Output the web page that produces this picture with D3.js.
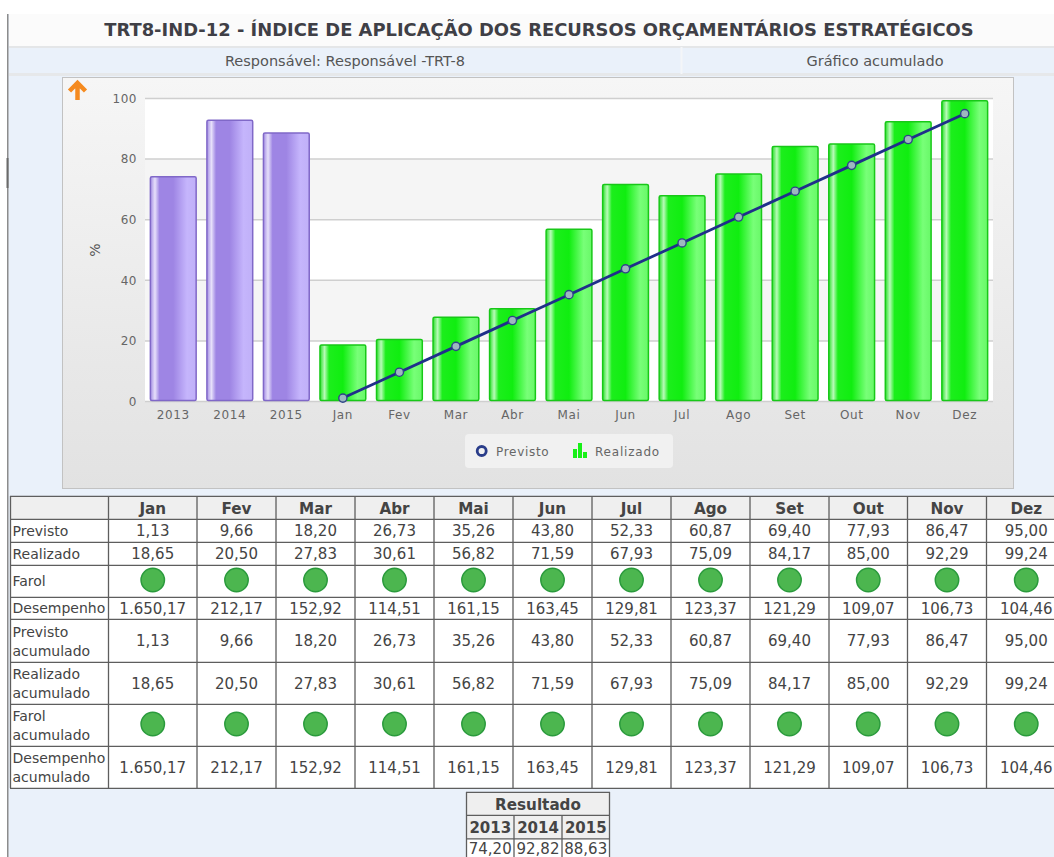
<!DOCTYPE html>
<html><head><meta charset="utf-8">
<script src="https://cdnjs.cloudflare.com/ajax/libs/d3/7.8.5/d3.min.js"></script>
<style>html,body{margin:0;padding:0;background:#fff;overflow:hidden}svg{display:block}</style>
</head><body><svg id="c" width="1054" height="857"></svg>
<script>
const titleText="TRT8-IND-12 - ÍNDICE DE APLICAÇÃO DOS RECURSOS ORÇAMENTÁRIOS ESTRATÉGICOS";
const respText="Responsável: Responsável -TRT-8";
const modeText="Gráfico acumulado";
const years=["2013","2014","2015"];
const yearValues=[74.20,92.82,88.63];
const yearLabels=["74,20","92,82","88,63"];
const months=["Jan","Fev","Mar","Abr","Mai","Jun","Jul","Ago","Set","Out","Nov","Dez"];
const previsto=[1.13,9.66,18.20,26.73,35.26,43.80,52.33,60.87,69.40,77.93,86.47,95.00];
const realizado=[18.65,20.50,27.83,30.61,56.82,71.59,67.93,75.09,84.17,85.00,92.29,99.24];
const desempenho=["1.650,17","212,17","152,92","114,51","161,15","163,45","129,81","123,37","121,29","109,07","106,73","104,46"];
const rowLabels=[["Previsto"],["Realizado"],["Farol"],["Desempenho"],["Previsto","acumulado"],["Realizado","acumulado"],["Farol","acumulado"],["Desempenho","acumulado"]];
const yTicks=[0,20,40,60,80,100];
const legendLabels=["Previsto","Realizado"];

const fmt=v=>v.toFixed(2).replace(".",",");
const svg=d3.select("#c");
const defs=svg.append("defs");
function barGrad(id,stops){
  const g=defs.append("linearGradient").attr("id",id);
  stops.forEach(s=>g.append("stop").attr("offset",s[0]).attr("stop-color",s[1]));
}
barGrad("gG",[[0,"#2ae02a"],[.1,"#b8fbb8"],[.2,"#1cee1c"],[.5,"#10ee10"],[.82,"#78ff78"],[1,"#68f868"]]);
barGrad("gP",[[0,"#a48ee4"],[.1,"#e6e0fa"],[.2,"#9e85e4"],[.5,"#9e85e4"],[.8,"#c5b5fc"],[1,"#c0b0f8"]]);
const bg=defs.append("linearGradient").attr("id","box").attr("x2",0).attr("y2",1);
bg.append("stop").attr("offset",0).attr("stop-color","#f6f6f6");
bg.append("stop").attr("offset",1).attr("stop-color","#e2e2e2");

const FONT="'DejaVu Sans',sans-serif";
// page
svg.append("rect").attr("x",8).attr("y",14).attr("width",1046).attr("height",843).attr("fill","#eaf1fa");
svg.append("rect").attr("x",7).attr("y",14).attr("width",1.5).attr("height",843).attr("fill","#8c8c8c");
svg.append("rect").attr("x",6.5).attr("y",158).attr("width",2).attr("height",30).attr("fill","#6a6a6a");
svg.append("rect").attr("x",9).attr("y",14).attr("width",1045).attr("height",32).attr("fill","#fbfbfb");
svg.append("rect").attr("x",9).attr("y",46).attr("width",1045).attr("height",2).attr("fill","#e4e6e8");
svg.append("rect").attr("x",9).attr("y",73).attr("width",1045).attr("height",3).attr("fill","#e6e8ea");
svg.append("rect").attr("x",680.5).attr("y",47).attr("width",2).attr("height",27).attr("fill","#f4f6f8");
svg.append("text").attr("x",539).attr("y",36).attr("text-anchor","middle").attr("font-family",FONT).attr("font-weight","bold").attr("font-size",17.9).attr("fill","#3f3f46").text(titleText);
svg.append("text").attr("x",345).attr("y",66).attr("text-anchor","middle").attr("font-family",FONT).attr("font-size",14.5).attr("fill","#555").text(respText);
svg.append("text").attr("x",875).attr("y",66).attr("text-anchor","middle").attr("font-family",FONT).attr("font-size",14.5).attr("fill","#555").text(modeText);

// chart box
svg.append("rect").attr("x",62.5).attr("y",77.5).attr("width",951).attr("height",411).attr("fill","url(#box)").attr("stroke","#c2c2c2");
svg.append("path").attr("d","M77.5 100V84M69.5 91l8-8 8 8").attr("fill","none").attr("stroke","#f58a1f").attr("stroke-width",4.5);

const cats=years.concat(months);
const x=d3.scaleBand().domain(cats).range([145,993]).paddingInner(.19).paddingOuter(.095);
const y=d3.scaleLinear().domain([0,100]).range([401.5,98.5]);
// bands
const plot=svg.append("g");
d3.pairs(yTicks).forEach((p,i)=>plot.append("rect").attr("x",145).attr("width",848).attr("y",y(p[1])).attr("height",y(p[0])-y(p[1])).attr("fill",i%2?"#f5f5f5":"#ffffff"));
plot.selectAll("line.g").data(yTicks).join("line").attr("x1",145).attr("x2",993).attr("y1",d=>y(d)).attr("y2",d=>y(d)).attr("stroke","#cfcfcf").attr("stroke-width",1.5);
// axes
const ya=svg.append("g").attr("transform","translate(145,0)").call(d3.axisLeft(y).tickValues(yTicks).tickSize(0).tickPadding(8));
ya.select(".domain").remove();
ya.selectAll("text").attr("font-family",FONT).attr("font-size",12).attr("letter-spacing",.5).attr("fill","#666");
const xa=svg.append("g").attr("transform","translate(0,401)").call(d3.axisBottom(x).tickSize(0).tickPadding(9));
xa.select(".domain").remove();
xa.selectAll("text").attr("font-family",FONT).attr("font-size",12).attr("letter-spacing",.6).attr("fill","#666");
svg.append("text").attr("transform","translate(100,250) rotate(-90)").attr("text-anchor","middle").attr("font-family",FONT).attr("font-size",14).attr("fill","#555").text("%");
// bars
function bars(keys,vals,grad,stroke){
  svg.append("g").selectAll("rect").data(keys).join("rect").attr("x",d=>x(d)).attr("width",x.bandwidth()).attr("y",(d,i)=>y(vals[i])).attr("height",(d,i)=>y(0)-y(vals[i])-1).attr("rx",1.5).attr("fill",`url(#${grad})`).attr("stroke",stroke).attr("stroke-width",1.5);
}
bars(years,yearValues,"gP","#8068c8");
bars(months,realizado,"gG","#18c818");
// line
const cx=d=>x(d)+x.bandwidth()/2;
const ln=d3.line().x(d=>cx(d[0])).y(d=>y(d[1]));
const pts=d3.zip(months,previsto);
svg.append("path").attr("d",ln(pts)).attr("fill","none").attr("stroke","#1f2f8a").attr("stroke-width",2.8);
svg.append("g").selectAll("circle").data(pts).join("circle").attr("cx",d=>cx(d[0])).attr("cy",d=>y(d[1])).attr("r",4.1).attr("fill","#9db8c0").attr("stroke","#2f4488").attr("stroke-width",1.4);
// legend
svg.append("rect").attr("x",465).attr("y",434).attr("width",208).attr("height",34).attr("rx",4).attr("fill","#f1f1f1");
svg.append("circle").attr("cx",481.7).attr("cy",451).attr("r",4.5).attr("fill","#f1f1f1").attr("stroke","#2a3d8a").attr("stroke-width",2.8);
svg.append("text").attr("x",496).attr("y",456).attr("font-family",FONT).attr("font-size",12).attr("letter-spacing",.7).attr("fill","#666").text(legendLabels[0]);
[[573,449,5,9],[578,443,5,15],[583,452,5,6]].forEach(r=>svg.append("rect").attr("x",r[0]).attr("y",r[1]).attr("width",r[2]-1).attr("height",r[3]).attr("fill","#17f017"));
svg.append("text").attr("x",595).attr("y",456).attr("font-family",FONT).attr("font-size",12).attr("letter-spacing",.8).attr("fill","#666").text(legendLabels[1]);

// table
const colX=[10.5,108.5,197,276,355,434,513,592,671,750,829,907.5,986.5,1066];
const rowY=[496,519,542,565,597,619,662,704,746,788];
const LINE="#5e5e5e",TXT="#444",TS=14,NS=15,HS=15.2;
const tb=svg.append("g");
tb.append("rect").attr("x",10).attr("y",rowY[0]).attr("width",1060).attr("height",rowY[9]-rowY[0]).attr("fill","#fff");
tb.append("rect").attr("x",10).attr("y",rowY[0]).attr("width",1060).attr("height",rowY[1]-rowY[0]).attr("fill","#efefef");
tb.selectAll("line.r").data(rowY).join("line").attr("x1",10).attr("x2",1054).attr("y1",d=>d+.3).attr("y2",d=>d+.3).attr("stroke",LINE).attr("stroke-width",1.3);
tb.selectAll("line.c").data(colX).join("line").attr("x1",d=>d).attr("x2",d=>d).attr("y1",rowY[0]).attr("y2",rowY[9]).attr("stroke",LINE).attr("stroke-width",1.3);
months.forEach((m,i)=>{
  const c=(colX[i+1]+colX[i+2])/2;
  tb.append("text").attr("x",c).attr("y",514).attr("text-anchor","middle").attr("font-family",FONT).attr("font-weight","bold").attr("font-size",HS).attr("fill","#444").text(m);
  const cols=[fmt(previsto[i]),fmt(realizado[i]),null,desempenho[i],fmt(previsto[i]),fmt(realizado[i]),null,desempenho[i]];
  cols.forEach((v,r)=>{
    const yc=(rowY[r+1]+rowY[r+2])/2;
    if(v===null) tb.append("circle").attr("cx",c).attr("cy",yc-1).attr("r",11.7).attr("fill","#4cb64f").attr("stroke","#2a9a3c").attr("stroke-width",1.5);
    else tb.append("text").attr("x",c).attr("y",yc+5.5).attr("text-anchor","middle").attr("font-family",FONT).attr("font-size",NS).attr("fill",TXT).text(v);
  });
});
rowLabels.forEach((l,r)=>{
  const yc=(rowY[r+1]+rowY[r+2])/2;
  l.forEach((t,k)=>tb.append("text").attr("x",12.5).attr("y",l.length==1?yc+5:yc-4+k*19).attr("font-family",FONT).attr("font-size",TS).attr("fill",TXT).text(t));
});
// result
const rx=[466.5,514,562,609.5], ry=[792,815,838.5];
const rt=svg.append("g");
rt.append("rect").attr("x",466).attr("y",792).attr("width",144).attr("height",47).attr("fill","#efefef");
rt.append("rect").attr("x",466).attr("y",839).attr("width",144).attr("height",20).attr("fill","#fff");
ry.forEach(v=>rt.append("line").attr("x1",466).attr("x2",610).attr("y1",v+.3).attr("y2",v+.3).attr("stroke",LINE).attr("stroke-width",1.3));
rx.forEach((v,i)=>rt.append("line").attr("x1",v).attr("x2",v).attr("y1",(i==1||i==2)?815:792).attr("y2",857).attr("stroke",LINE).attr("stroke-width",1.3));
rt.append("text").attr("x",538).attr("y",810).attr("text-anchor","middle").attr("font-family",FONT).attr("font-weight","bold").attr("font-size",HS).attr("fill","#444").text("Resultado");
years.forEach((yy,i)=>{
  const c=(rx[i]+rx[i+1])/2;
  rt.append("text").attr("x",c).attr("y",833).attr("text-anchor","middle").attr("font-family",FONT).attr("font-weight","bold").attr("font-size",15).attr("fill","#444").text(yy);
  rt.append("text").attr("x",c).attr("y",854).attr("text-anchor","middle").attr("font-family",FONT).attr("font-size",15).attr("fill",TXT).text(yearLabels[i]);
});
</script></body></html>
